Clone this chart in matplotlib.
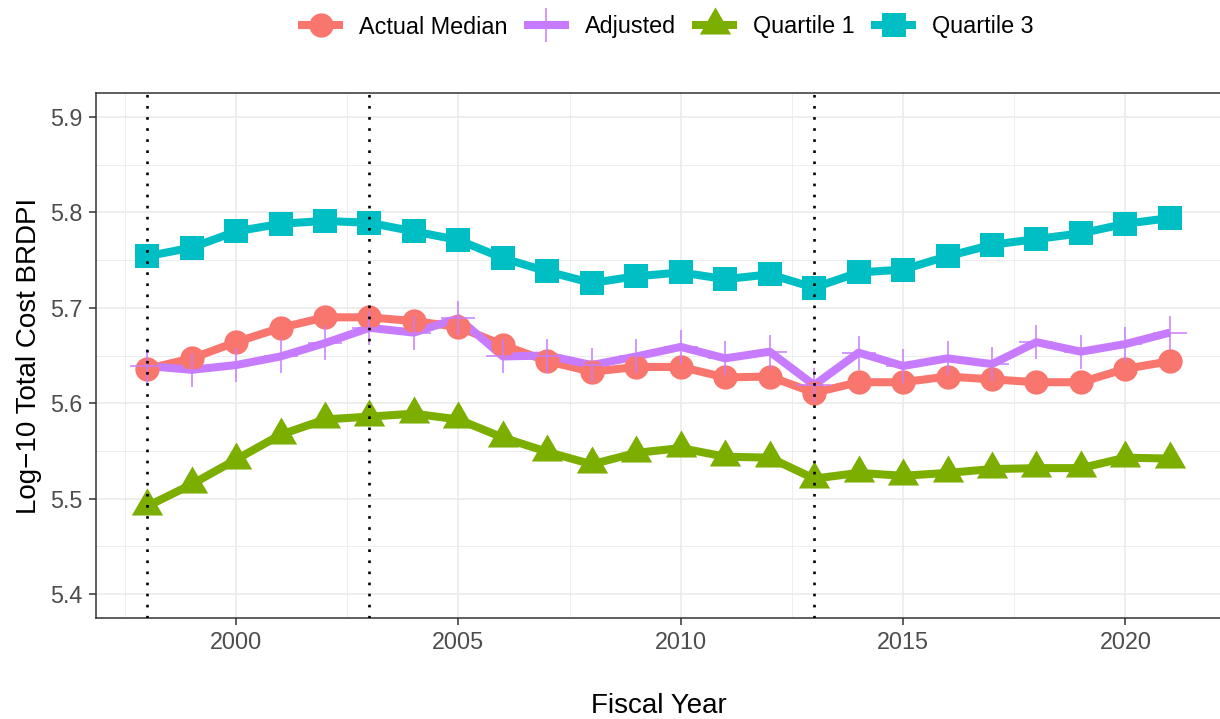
import numpy as np
import matplotlib
matplotlib.use("Agg")
import matplotlib.pyplot as plt
from matplotlib.ticker import MultipleLocator

plt.rcParams['font.family'] = ['Liberation Sans', 'DejaVu Sans']

years = list(range(1998, 2022))

actual_median = [5.636, 5.647, 5.664, 5.679, 5.690, 5.690, 5.686, 5.680, 5.661, 5.644,
                 5.633, 5.638, 5.638, 5.627, 5.628, 5.611, 5.622, 5.622, 5.628, 5.625,
                 5.622, 5.622, 5.636, 5.644]
adjusted = [5.639, 5.635, 5.640, 5.649, 5.663, 5.679, 5.674, 5.689, 5.649, 5.650,
            5.640, 5.649, 5.659, 5.647, 5.654, 5.619, 5.653, 5.639, 5.647, 5.641,
            5.664, 5.654, 5.662, 5.674]
quartile1 = [5.492, 5.515, 5.541, 5.567, 5.583, 5.586, 5.589, 5.583, 5.564, 5.549,
             5.536, 5.548, 5.553, 5.544, 5.543, 5.521, 5.527, 5.524, 5.527, 5.531,
             5.532, 5.532, 5.543, 5.542]
quartile3 = [5.754, 5.763, 5.780, 5.788, 5.791, 5.789, 5.780, 5.771, 5.752, 5.738,
             5.726, 5.733, 5.737, 5.730, 5.735, 5.721, 5.737, 5.740, 5.754, 5.766,
             5.772, 5.778, 5.788, 5.794]

series_names = ["Actual Median", "Adjusted", "Quartile 1", "Quartile 3"]
series_colors = ["#F8766D", "#C77CFF", "#7CAE00", "#00BFC4"]
break_years = [1998, 2003, 2013]

# equilateral triangle like R's pch 17
tri = [(0, 1), (-0.866, -0.5), (0.866, -0.5), (0, 1)]
markers = ["o", "+", tri, "s"]
msizes = [17.5, 25, 26, 17.5]

fig = plt.figure(figsize=(12.2, 7.19), dpi=100)
ax = fig.add_axes([96 / 1220, 1 - 618 / 719, 1125 / 1220, (618 - 93) / 719])

data = [actual_median, adjusted, quartile1, quartile3]
lw = 5.8
for vals, col in zip(data, series_colors):
    ax.plot(years, vals, color=col, lw=lw, solid_capstyle='butt', zorder=2)
handles = []
for vals, col, mk, ms, name in zip(data, series_colors, markers, msizes, series_names):
    mew = 1.1 if mk == "+" else 0
    ax.plot(years, vals, ls='none', marker=mk, ms=ms, color=col, mew=mew, zorder=3)
    h, = ax.plot([], [], color=col, lw=lw, marker=mk, ms=ms, mew=mew, label=name)
    handles.append(h)

for yr in break_years:
    ax.axvline(yr, color='black', lw=1.9, ls=(0, (1, 3.2)), dash_capstyle='butt', zorder=5)

ax.set_xlim(1996.85, 2022.15)
ax.set_ylim(5.375, 5.925)
ax.xaxis.set_major_locator(MultipleLocator(5))
ax.xaxis.set_minor_locator(MultipleLocator(2.5))
ax.yaxis.set_major_locator(MultipleLocator(0.1))
ax.yaxis.set_minor_locator(MultipleLocator(0.05))
ax.yaxis.set_major_formatter(matplotlib.ticker.FormatStrFormatter('%.1f'))

ax.grid(which='major', color='#EBEBEB', lw=1.2, zorder=0)
ax.grid(which='minor', color='#EBEBEB', lw=0.6, zorder=0)
ax.set_axisbelow(True)
for s in ax.spines.values():
    s.set_color('#333333')
    s.set_linewidth(1.1)
ax.tick_params(which='major', length=5, width=1.1, color='#333333', pad=4.5,
               labelsize=16.8, labelcolor='#4D4D4D')
ax.tick_params(which='minor', length=0)

fig.text(36 / 1220, 1 - 355.5 / 719, "Log\u221210 Total Cost BRDPI", rotation=90,
         ha='center', va='baseline', rotation_mode='anchor', fontsize=20)
fig.text(658.5 / 1220, 1 - 713 / 719, "Fiscal Year", ha='center', va='baseline', fontsize=20)

fig.legend(handles=handles, loc='center', bbox_to_anchor=(668 / 1220, 1 - 27 / 719),
           ncol=4, frameon=False, fontsize=16.8, handlelength=1.59, handletextpad=0.86,
           columnspacing=0.86, borderpad=0, borderaxespad=0)

fig.savefig("out.png", dpi=100)
